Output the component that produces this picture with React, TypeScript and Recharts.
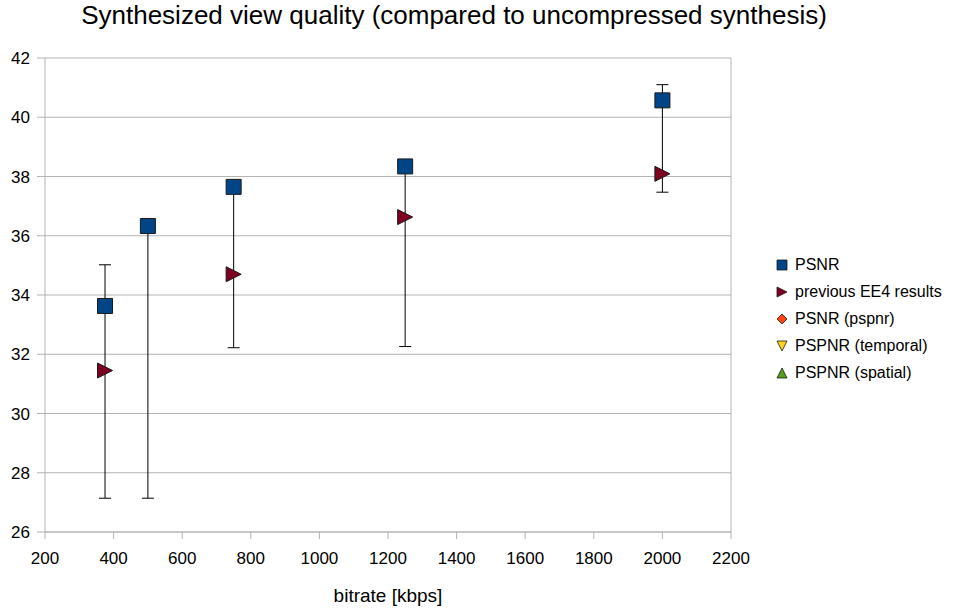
import React from 'react';
import {
  ScatterChart,
  Scatter,
  XAxis,
  YAxis,
  CartesianGrid,
  ErrorBar,
  Legend,
  ReferenceLine,
} from 'recharts';

// PSNR series (with min/max range as error bars)
const bitrates = [375, 500, 750, 1250, 2000];
const psnr = [33.63, 36.33, 37.65, 38.34, 40.57];
const rangeMin = [27.14, 27.14, 32.22, 32.26, 37.47];
const rangeMax = [35.02, 36.33, 37.65, 38.34, 41.1];

// previous EE4 results
const prevBitrates = [375, 750, 1250, 2000];
const prevEE4 = [31.45, 34.7, 36.63, 38.09];

const xTicks = [200, 400, 600, 800, 1000, 1200, 1400, 1600, 1800, 2000, 2200];
const yTicks = [26, 28, 30, 32, 34, 36, 38, 40, 42];

const SERIES = [
  { name: 'PSNR', color: '#004586', shape: 'square' },
  { name: 'previous EE4 results', color: '#7e0021', shape: 'right' },
  { name: 'PSNR (pspnr)', color: '#ff420e', shape: 'diamond' },
  { name: 'PSPNR (temporal)', color: '#ffd320', shape: 'down' },
  { name: 'PSPNR (spatial)', color: '#579d1c', shape: 'up' },
];

const FONT = '"Liberation Sans", Arial, sans-serif';
const GRID = '#b3b3b3';

const psnrData = bitrates.map((x, i) => ({ x, y: psnr[i] }));
const prevData = prevBitrates.map((x, i) => ({ x, y: prevEE4[i] }));
const errData = bitrates.map((x, i) => ({
  x,
  y: psnr[i],
  err: [psnr[i] - rangeMin[i], rangeMax[i] - psnr[i]],
}));

const markerPath = (shape: string, cx: number, cy: number, s: number) => {
  const h = s / 2;
  switch (shape) {
    case 'square':
      return `M${cx - h},${cy - h}h${s}v${s}h${-s}Z`;
    case 'right':
      return `M${cx - h},${cy - h}L${cx + h},${cy}L${cx - h},${cy + h}Z`;
    case 'diamond':
      return `M${cx},${cy - h}L${cx + h},${cy}L${cx},${cy + h}L${cx - h},${cy}Z`;
    case 'down':
      return `M${cx - h},${cy - h}L${cx + h},${cy - h}L${cx},${cy + h}Z`;
    default:
      return `M${cx},${cy - h}L${cx + h},${cy + h}L${cx - h},${cy + h}Z`;
  }
};

const makeShape = (shape: string, color: string) => (props: any) => {
  const { cx, cy } = props;
  if (cx == null || cy == null) return <g />;
  return <path d={markerPath(shape, cx, cy, 15)} fill={color} stroke="#1a1a1a" strokeWidth={1} />;
};

const LegendContent = () => (
  <div style={{ fontFamily: FONT, fontSize: 16, color: '#000' }}>
    {SERIES.map((s) => (
      <div key={s.name} style={{ display: 'flex', alignItems: 'center', height: 27 }}>
        <svg width={12} height={12} style={{ marginRight: 7 }}>
          <path d={markerPath(s.shape, 6, 6, 10)} fill={s.color} stroke="#1a1a1a" strokeWidth={0.8} />
        </svg>
        <span>{s.name}</span>
      </div>
    ))}
  </div>
);

export default function App() {
  return (
    <div style={{ position: 'absolute', left: 0, top: 0, width: 957, height: 609, background: '#fff' }}>
      <div
        style={{
          position: 'absolute',
          left: 0,
          width: 908,
          top: 0,
          textAlign: 'center',
          fontFamily: FONT,
          fontSize: 26,
          color: '#000',
        }}
      >
        Synthesized view quality (compared to uncompressed synthesis)
      </div>
      <ScatterChart
        width={957}
        height={609}
        margin={{ top: 58, right: 226, bottom: 47, left: 0 }}
      >
        <CartesianGrid horizontal vertical={false} stroke={GRID} />
        <XAxis
          type="number"
          dataKey="x"
          domain={[200, 2200]}
          ticks={xTicks}
          interval={0}
          height={30}
          tickSize={7}
          tickMargin={13}
          stroke={GRID}
          tick={{ fill: '#000', fontSize: 17, fontFamily: FONT }}
          label={{
            value: 'bitrate [kbps]',
            position: 'insideBottom',
            offset: -40,
            fill: '#000',
            fontSize: 19,
            fontFamily: FONT,
          }}
        />
        <YAxis
          type="number"
          dataKey="y"
          domain={[26, 42]}
          ticks={yTicks}
          interval={0}
          width={45}
          tickSize={8}
          tickMargin={7}
          stroke={GRID}
          tick={{ fill: '#000', fontSize: 17, fontFamily: FONT }}
        />
        <ReferenceLine x={2200} stroke={GRID} />
        <Scatter
          name={SERIES[0].name}
          data={psnrData}
          fill={SERIES[0].color}
          shape={makeShape('square', SERIES[0].color)}
          isAnimationActive={false}
        />
        <Scatter
          name={SERIES[1].name}
          data={prevData}
          fill={SERIES[1].color}
          shape={makeShape('right', SERIES[1].color)}
          isAnimationActive={false}
        />
        <Scatter
          name="range"
          data={errData}
          legendType="none"
          shape={() => <g />}
          isAnimationActive={false}
        >
          <ErrorBar dataKey="err" direction="y" width={6} stroke="#000" strokeWidth={1} />
        </Scatter>
        <Legend
          layout="horizontal"
          verticalAlign="middle"
          align="center"
          content={<LegendContent />}
          wrapperStyle={{ left: 776, top: 251, width: 181, height: 140 }}
        />
      </ScatterChart>
    </div>
  );
}
